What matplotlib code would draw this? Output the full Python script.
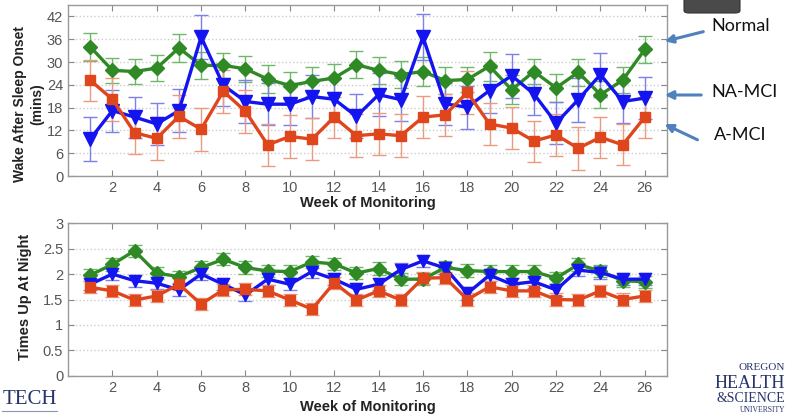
import matplotlib
matplotlib.use("Agg")
import matplotlib.pyplot as plt
from matplotlib.patches import FancyBboxPatch, FancyArrowPatch

plt.rcParams["font.family"] = ["Liberation Sans", "DejaVu Sans"]

weeks = list(range(1, 27))

# Wake After Sleep Onset (mins)
waso_normal = [34.0, 27.8, 27.5, 28.4, 33.7, 29.1, 29.1, 28.2, 25.5, 23.8, 24.9, 25.8, 29.3,
               27.8, 26.7, 27.5, 25.1, 25.4, 28.9, 22.7, 27.5, 23.2, 27.3, 21.4, 25.2, 33.3]
waso_na_mci = [9.7, 17.2, 15.5, 13.7, 17.2, 36.6, 23.9, 19.6, 18.9, 18.9, 20.9, 20.2, 15.7,
               21.4, 20.1, 36.6, 19.0, 18.1, 22.5, 26.4, 21.6, 13.9, 20.1, 26.7, 19.6, 20.5]
waso_a_mci = [25.2, 20.2, 11.4, 9.9, 15.7, 12.3, 22.3, 17.0, 8.2, 10.4, 9.7, 15.5, 10.6,
              11.1, 10.6, 15.5, 16.1, 22.0, 13.7, 12.6, 9.2, 10.8, 7.3, 10.2, 8.2, 15.5]
waso_normal_err = [3.7, 3.3, 3.3, 3.5, 3.6, 3.6, 3.4, 3.4, 3.6, 3.6, 3.8, 3.6, 3.6,
                   3.5, 3.5, 3.8, 3.6, 3.4, 3.8, 3.8, 3.4, 3.6, 3.6, 3.6, 3.4, 3.6]
waso_na_mci_err = [5.8, 5.5, 5.4, 5.6, 5.6, 5.9, 5.6, 5.6, 5.6, 5.6, 5.6, 5.6, 5.8,
                   5.6, 5.6, 6.0, 5.6, 5.6, 5.8, 5.8, 5.6, 5.6, 5.8, 5.8, 5.6, 5.6]
waso_a_mci_err = [5.4, 5.6, 5.6, 5.6, 5.6, 5.6, 5.6, 5.6, 5.6, 5.6, 5.6, 5.4, 5.6,
                  5.6, 5.6, 5.6, 5.6, 5.6, 5.6, 5.6, 5.4, 5.6, 5.6, 5.4, 5.4, 5.4]

# Times Up At Night
tun_normal = [1.98, 2.19, 2.46, 2.02, 1.95, 2.13, 2.29, 2.13, 2.06, 2.05, 2.24, 2.20, 2.02,
              2.11, 1.90, 1.90, 2.13, 2.07, 2.05, 2.05, 2.05, 1.92, 2.19, 2.06, 1.87, 1.85]
tun_na_mci = [1.80, 2.00, 1.87, 1.82, 1.69, 2.00, 1.80, 1.59, 1.90, 1.80, 2.05, 1.90, 1.70,
              1.80, 2.09, 2.26, 2.12, 1.62, 1.98, 1.80, 1.85, 1.69, 2.08, 2.03, 1.90, 1.90]
tun_a_mci = [1.74, 1.67, 1.49, 1.57, 1.80, 1.41, 1.69, 1.70, 1.67, 1.49, 1.31, 1.83, 1.49,
             1.67, 1.49, 1.92, 1.93, 1.50, 1.75, 1.67, 1.67, 1.50, 1.49, 1.67, 1.50, 1.57]
tun_normal_err = [0.12] * 26
tun_na_mci_err = [0.12] * 26
tun_a_mci_err = [0.12] * 26

x_ticks = list(range(2, 27, 2))
waso_ticks = [0, 6, 12, 18, 24, 30, 36, 42]
tun_ticks = [0, 0.5, 1, 1.5, 2, 2.5, 3]
tun_ticklabels = ["0", "0.5", "1", "1.5", "2", "2.5", "3"]

groups = ["Normal", "NA-MCI", "A-MCI"]

C_GREEN = "#2f8a25"
C_BLUE = "#1414f0"
C_RED = "#e0461c"
C_GREEN_E = "#6fb86a"
C_BLUE_E = "#7f7fe8"
C_RED_E = "#eb9a80"

fig = plt.figure(figsize=(7.88, 4.16), dpi=100)
fig.patch.set_facecolor("white")

ax1 = fig.add_axes([68/788, 1-176/416, (667-68)/788, (176-5)/416])
ax2 = fig.add_axes([68/788, 1-375.7/416, (667-68)/788, (375.7-223.3)/416])


def draw(ax, nor, nae, ame, ne, nee, ae, ms):
    specs = [
        (nor, ne, C_GREEN, C_GREEN_E, "D", ms),
        (nae, nee, C_BLUE, C_BLUE_E, "v", ms + 2),
        (ame, ae, C_RED, C_RED_E, "s", ms),
    ]
    for y, e, c, ce, m, s in specs:
        ax.errorbar(weeks, y, yerr=e, fmt="none", ecolor=ce, elinewidth=1.0,
                    capsize=5, capthick=1.0, zorder=2)
    for y, e, c, ce, m, s in specs:
        ax.plot(weeks, y, color=c, lw=2.4, marker=m, markersize=s,
                markerfacecolor=c, markeredgecolor=c, zorder=3)
    ax.set_xlim(0, 27)
    ax.set_xticks(x_ticks)
    ax.tick_params(direction="in", top=True, right=True, length=4,
                   colors="#888888", labelcolor="#555555", labelsize=10.5)
    for sp in ax.spines.values():
        sp.set_color("#999999")
        sp.set_linewidth(1.0)
    ax.yaxis.grid(True, color="#cccccc", linestyle=":", linewidth=1.0)
    ax.set_axisbelow(True)


draw(ax1, waso_normal, waso_na_mci, waso_a_mci,
     waso_normal_err, waso_na_mci_err, waso_a_mci_err, 7.5)
ax1.set_ylim(0, 45)
ax1.set_yticks(waso_ticks)
ax1.set_ylabel("Wake After Sleep Onset\n(mins)", fontsize=10, fontweight="bold",
               color="#222222", linespacing=1.3)
ax1.yaxis.set_label_coords(-0.04, 0.42)
ax1.set_xlabel("Week of Monitoring", fontsize=10.5, fontweight="bold",
               color="#222222", labelpad=1)

draw(ax2, tun_normal, tun_na_mci, tun_a_mci,
     tun_normal_err, tun_na_mci_err, tun_a_mci_err, 7)
ax2.set_ylim(0, 3)
ax2.set_yticks(tun_ticks)
ax2.set_yticklabels(tun_ticklabels)
ax2.set_ylabel("Times Up At Night", fontsize=10.5, fontweight="bold",
               color="#222222")
ax2.yaxis.set_label_coords(-0.06, 0.52)
ax2.set_xlabel("Week of Monitoring", fontsize=10.5, fontweight="bold",
               color="#222222", labelpad=4)


def fx(px):
    return px / 788


def fy(py):
    return 1 - py / 416


ARROW_C = "#4f81bd"
label_pos = [(711, 26), (711, 92), (714, 135)]
arrow_pos = [((706, 31), (662, 42)), ((704, 95), (662, 95)), ((700, 141), (662, 123))]
for g, (tx, ty), (a0, a1) in zip(groups, label_pos, arrow_pos):
    fig.text(fx(tx), fy(ty), g, fontsize=13, color="#111111",
             ha="left", va="center", family="Lato")
    arr = FancyArrowPatch((fx(a0[0]), fy(a0[1])), (fx(a1[0]), fy(a1[1])),
                          transform=fig.transFigure, arrowstyle="-|>",
                          mutation_scale=12, color=ARROW_C, lw=2.2)
    fig.add_artist(arr)

# dark device box at top right
box = FancyBboxPatch((fx(684), fy(13)), (740-684)/788, 16/416,
                     boxstyle="round,pad=0,rounding_size=0.006",
                     transform=fig.transFigure, facecolor="#4a4a4a",
                     edgecolor="#333333", lw=0.8)
fig.add_artist(box)

# logos (as text)
NAVY = "#27346b"
fig.text(fx(3), fy(400), "TECH", fontsize=15, color=NAVY,
         family="Liberation Serif", ha="left", va="center")
fig.add_artist(plt.Line2D([fx(2), fx(57)], [fy(411), fy(411)],
                          transform=fig.transFigure, color="#8a95b8", lw=0.8))
fig.text(fx(785), fy(368), "OREGON", fontsize=8, color=NAVY,
         family="Liberation Serif", ha="right", va="center")
fig.text(fx(785), fy(383), "HEALTH", fontsize=13, color=NAVY,
         family="Liberation Serif", ha="right", va="center")
fig.text(fx(785), fy(398), "&SCIENCE", fontsize=10, color=NAVY,
         family="Liberation Serif", ha="right", va="center")
fig.text(fx(785), fy(410), "UNIVERSITY", fontsize=5.5, color=NAVY,
         family="Liberation Serif", ha="right", va="center")

fig.savefig("out.png", dpi=100, facecolor="white")
